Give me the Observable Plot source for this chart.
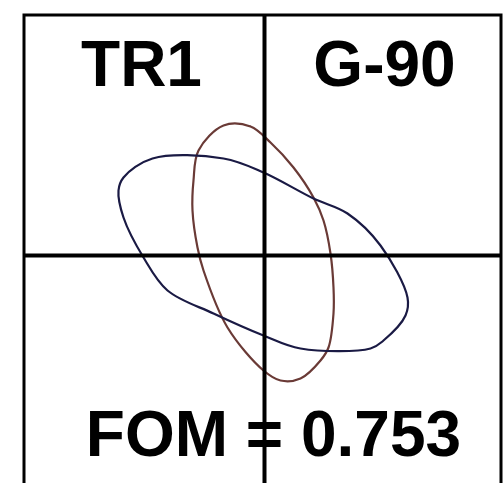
<!DOCTYPE html>
<html>
<head>
<meta charset="utf-8">
<script src="https://cdn.jsdelivr.net/npm/d3@7"></script>
<script src="https://cdn.jsdelivr.net/npm/@observablehq/plot@0.6"></script>
<style>
  html, body { margin: 0; padding: 0; background: #fff; overflow: hidden; }
  #chart svg { display: block; }
</style>
</head>
<body>
<div id="chart"></div>
<script>
// Contour of the TR1 response (dark blue) in the plane, traced point by point
const tr1X = [-0.01, 0.49, 0.83, 1.16, 1.43, 1.41, 1.19, 1.06, 0.36, -0.01, -0.51, -0.97, -1.21, -1.41, -1.46, -1.41, -1.12, -0.41];
const tr1Y = [0.83, 0.57, 0.42, 0.10, -0.42, -0.60, -0.85, -0.93, -0.93, -0.80, -0.58, -0.35, -0.02, 0.38, 0.65, 0.78, 0.97, 0.97];

// Contour of the G-90 response (brown)
const g90X = [-0.41, -0.14, 0.06, 0.29, 0.49, 0.59, 0.66, 0.69, 0.69, 0.64, 0.56, 0.36, 0.16, -0.01, -0.37, -0.61, -0.67, -0.72, -0.71, -0.66];
const g90Y = [1.30, 1.29, 1.13, 0.88, 0.58, 0.35, 0.02, -0.32, -0.58, -0.92, -1.05, -1.23, -1.25, -1.15, -0.72, -0.15, 0.08, 0.45, 0.75, 1.05];

const quadrantLabels = ["TR1", "G-90"];
const fomValue = 0.753;

const tr1 = tr1X.map((x, i) => ({x, y: tr1Y[i]}));
const g90 = g90X.map((x, i) => ({x, y: g90Y[i]}));

const font = "'Liberation Sans', Arial, Helvetica, sans-serif";

const chart = Plot.plot({
  width: 504,
  height: 496,
  marginLeft: 23.5,
  marginRight: 3.5,
  marginTop: 14.5,
  marginBottom: 0.5,
  x: {domain: [-2.405, 2.365], axis: null},
  y: {domain: [-2.405, 2.405], axis: null},
  style: {background: "#fff", fontFamily: font},
  marks: [
    Plot.line(g90, {x: "x", y: "y", curve: "catmull-rom-closed", stroke: "#6a3a36", strokeWidth: 2.2}),
    Plot.line(tr1, {x: "x", y: "y", curve: "catmull-rom-closed", stroke: "#1a1a44", strokeWidth: 2.2}),
    Plot.ruleX([0], {stroke: "#000", strokeWidth: 4}),
    Plot.ruleY([0], {stroke: "#000", strokeWidth: 4}),
    Plot.text([quadrantLabels[0]], {x: -1.23, y: 1.9, text: d => d, fontSize: 64, fontWeight: "bold", fill: "#000"}),
    Plot.text([quadrantLabels[1]], {x: 1.2, y: 1.9, text: d => d, fontSize: 64, fontWeight: "bold", fill: "#000"}),
    Plot.text([fomValue], {x: 0.09, y: -1.8, text: d => `FOM = ${d.toFixed(3)}`, fontSize: 64, fontWeight: "bold", fill: "#000"}),
    Plot.frame({stroke: "#000", strokeWidth: 3})
  ]
});

document.getElementById("chart").appendChild(chart);
</script>
</body>
</html>
